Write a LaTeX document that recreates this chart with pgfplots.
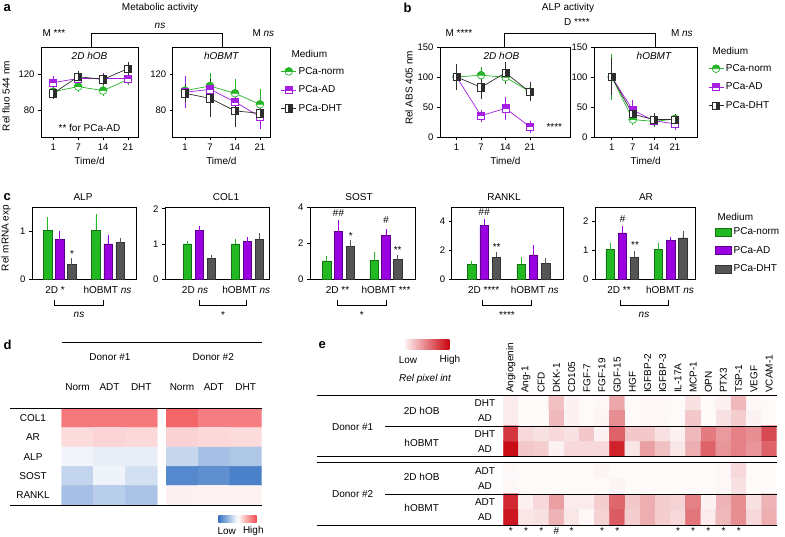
\documentclass[border=0pt]{standalone}
\usepackage{fontspec}
\setmainfont{Liberation Sans}
\usepackage{pgfplots}
\pgfplotsset{compat=1.18}
\usetikzlibrary{plotmarks}
\definecolor{cg}{RGB}{40,180,40}
\definecolor{cp}{RGB}{165,30,225}
\definecolor{ck}{RGB}{45,45,45}
\definecolor{bg}{RGB}{35,185,35}
\definecolor{bp}{RGB}{155,0,225}
\definecolor{bk}{RGB}{85,85,85}
\definecolor{dblue}{RGB}{55,115,195}
\definecolor{dred}{RGB}{240,75,80}
\definecolor{hlow}{RGB}{255,240,240}
\definecolor{hhigh}{RGB}{200,5,15}
\pgfdeclareplotmark{mnorm}{%
  \pgfpathcircle{\pgfpointorigin}{\pgfplotmarksize}%
  \pgfsetfillcolor{white}\pgfusepathqfillstroke
  \pgfpathmoveto{\pgfqpoint{\pgfplotmarksize}{0pt}}%
  \pgfpatharc{0}{180}{\pgfplotmarksize}%
  \pgfpathclose
  \pgfsetfillcolor{cg}\pgfusepathqfillstroke}
\pgfdeclareplotmark{mad}{%
  \pgfpathrectangle{\pgfqpoint{-\pgfplotmarksize}{-\pgfplotmarksize}}{\pgfqpoint{2\pgfplotmarksize}{2\pgfplotmarksize}}%
  \pgfsetfillcolor{white}\pgfusepathqfillstroke
  \pgfpathrectangle{\pgfqpoint{-\pgfplotmarksize}{0pt}}{\pgfqpoint{2\pgfplotmarksize}{\pgfplotmarksize}}%
  \pgfsetfillcolor{cp}\pgfusepathqfillstroke}
\pgfdeclareplotmark{mdht}{%
  \pgfpathrectangle{\pgfqpoint{-\pgfplotmarksize}{-\pgfplotmarksize}}{\pgfqpoint{2\pgfplotmarksize}{2\pgfplotmarksize}}%
  \pgfsetfillcolor{white}\pgfusepathqfillstroke
  \pgfpathrectangle{\pgfqpoint{0pt}{-\pgfplotmarksize}}{\pgfqpoint{\pgfplotmarksize}{2\pgfplotmarksize}}%
  \pgfsetfillcolor{ck}\pgfusepathqfillstroke}
\newcommand\fs{\fontsize{10}{12}\selectfont}
\newcommand\fst{\fontsize{9.5}{11}\selectfont}
\pgfplotsset{
  /pgf/number format/assume math mode=true,
  base/.style={scale only axis, clip=false, font=\fs,
    axis line style={line width=0.7pt},
    tick align=outside, tick pos=left, major tick length=3pt,
    tick style={line width=0.7pt, black},
    tick label style={font=\fst},
    legend style={draw=none, fill=none, inner sep=0pt, row sep=5pt, font=\fs, legend cell align=left, anchor=north west}},
  lineax/.style={base, height=90pt, xtick={0,1,2,3}, xticklabels={1,7,14,21},
    xlabel={Time/d},
    legend image code/.code={\draw[mark repeat=2,mark phase=2,##1] plot coordinates {(0pt,0pt) (7.5pt,0pt) (15pt,0pt)};}},
  barax/.style={base, height=72pt, ymin=0, xtick=\empty, anchor=north west,
    legend image code/.code={\draw[##1, bar shift=0pt] (0pt,-4pt) rectangle (16pt,4pt);}},
  pnorm/.style={cg, line width=0.7pt, mark=mnorm, mark size=3.8pt,
    mark options={solid, draw=cg},
    error bars/y dir=both, error bars/y explicit, error bars/error mark=-,
    error bars/error bar style={cg, line width=0.7pt},
    error bars/error mark options={cg, mark size=3.5pt, line width=0.7pt}},
  pad/.style={cp, line width=0.7pt, mark=mad, mark size=3.6pt,
    mark options={solid, draw=cp},
    error bars/y dir=both, error bars/y explicit, error bars/error mark=-,
    error bars/error bar style={cp, line width=0.7pt},
    error bars/error mark options={cp, mark size=3.5pt, line width=0.7pt}},
  pdht/.style={ck, line width=0.7pt, mark=mdht, mark size=3.6pt,
    mark options={solid, draw=ck},
    error bars/y dir=both, error bars/y explicit, error bars/error mark=-,
    error bars/error bar style={ck, line width=0.7pt},
    error bars/error mark options={ck, mark size=3.5pt, line width=0.7pt}},
  bstyle/.style={ybar, bar width=8.3pt, bar shift=0pt, fill=#1, draw=#1!60!black, line width=0.5pt,
    error bars/y dir=plus, error bars/y explicit, error bars/error mark=-,
    error bars/error bar style={#1, line width=0.7pt},
    error bars/error mark options={#1, mark size=2.5pt, line width=0.7pt}},
  heat/.style={scale only axis, enlargelimits=false, y dir=reverse, anchor=north west},
}
\begin{document}
\begin{tikzpicture}[font=\fs]
\useasboundingbox (0,0) rectangle (785pt,-537pt);

% ================= panel a =================
\begin{axis}[lineax, at={(41pt,-47pt)}, anchor=north west, width=97pt,
  xmin=-0.49, xmax=3.4, ymin=50, ymax=150, ytick={80,120}]
\addplot[pnorm] coordinates {(0,100.3) +- (0,2) (1,106) +- (0,2) (2,101.5) +- (0,2) (3,114) +- (0,2)};
\addplot[pad] coordinates {(0,110.4) +- (0,3) (1,115) +- (0,2) (2,115) +- (0,2) (3,115) +- (0,2)};
\addplot[pdht] coordinates {(0,98.5) +- (0,2) (1,117) +- (0,2) (2,114) +- (0,2) (3,126) +- (0,3)};
\node[font=\itshape\fs] at (rel axis cs:0.5,0.9) {2D hOB};
\node at (rel axis cs:0.5,0.105) {** for PCa-AD};
\end{axis}
\begin{axis}[lineax, at={(172.7pt,-47pt)}, anchor=north west, width=97.3pt,
  xmin=-0.49, xmax=3.4, ymin=50, ymax=150, ytick={80,120},
  legend style={at={(1.11,0.80)}, row sep=6pt}]
\addplot[pnorm] coordinates {(0,101.5) +- (0,10) (1,106.7) +- (0,11) (2,98.5) +- (0,12) (3,86.3) +- (0,13)};
\addplot[pad] coordinates {(0,99.6) +- (0,14) (1,103) +- (0,8) (2,89) +- (0,8) (3,72.6) +- (0,10)};
\addplot[pdht] coordinates {(0,98.5) +- (0,6) (1,93) +- (0,17) (2,79) +- (0,14.5) (3,76.3) +- (0,5)};
\node[font=\itshape\fs] at (rel axis cs:0.5,0.9) {hOBMT};
\legend{PCa-norm,PCa-AD,PCa-DHT}
\end{axis}

% ================= panel b =================
\begin{axis}[lineax, at={(440pt,-47pt)}, anchor=north west, width=130.7pt,
  xmin=-0.68, xmax=4.67, ymin=0, ymax=150, ytick={0,50,100,150}]
\addplot[pnorm] coordinates {(0,100) +- (0,8) (1,103) +- (0,8) (2,99.5) +- (0,6) (3,75.5) +- (0,6)};
\addplot[pad] coordinates {(0,100) +- (0,5) (1,35.5) +- (0,4) (2,47.8) +- (0,13) (3,17) +- (0,4)};
\addplot[pdht] coordinates {(0,100) +- (0,16) (1,82.8) +- (0,14) (2,107) +- (0,12) (3,75) +- (0,10)};
\node[font=\itshape\fs] at (rel axis cs:0.47,0.9) {2D hOB};
\node at (axis cs:4.0,17) {****};
\end{axis}
\begin{axis}[lineax, at={(594pt,-47pt)}, anchor=north west, width=103.3pt,
  xmin=-0.84, xmax=4.06, ymin=0, ymax=150, ytick={0,50,100,150},
  legend style={at={(1.104,0.83)}, row sep=6pt}]
\addplot[pnorm] coordinates {(0,100) +- (0,33) (1,29) +- (0,4) (2,26) +- (0,4) (3,30) +- (0,3)};
\addplot[pad] coordinates {(0,100) +- (0,10) (1,45) +- (0,11) (2,27) +- (0,3) (3,22) +- (0,4)};
\addplot[pdht] coordinates {(0,100) +- (0,25) (1,38) +- (0,5) (2,29) +- (0,5) (3,29) +- (0,3)};
\node[font=\itshape\fs] at (rel axis cs:0.58,0.9) {hOBMT};
\legend{PCa-norm,PCa-AD,PCa-DHT}
\end{axis}

% ================= panel c =================
\begin{axis}[barax, at={(32pt,-207pt)}, width=104pt, xmin=-1.3, xmax=7.33, ymax=1.5, ytick={0,1}]
\addplot[bstyle=bg] coordinates {(0,1.02) +- (0,0.22) (4,1.02) +- (0,0.28)};
\addplot[bstyle=bp] coordinates {(1,0.82) +- (0,0.12) (5,0.73) +- (0,0.14)};
\addplot[bstyle=bk] coordinates {(2,0.30) +- (0,0.08) (6,0.77) +- (0,0.03)};
\end{axis}
\begin{axis}[barax, at={(165pt,-207pt)}, width=104pt, xmin=-1.86, xmax=6.8, ymax=2.05, ytick={0,1,2}]
\addplot[bstyle=bg] coordinates {(0,1.0) +- (0,0.01) (4,1.0) +- (0,0.06)};
\addplot[bstyle=bp] coordinates {(1,1.38) +- (0,0.06) (5,1.07) +- (0,0.06)};
\addplot[bstyle=bk] coordinates {(2,0.59) +- (0,0.02) (6,1.13) +- (0,0.1)};
\end{axis}
\begin{axis}[barax, at={(310pt,-207pt)}, width=105pt, xmin=-1.41, xmax=7.46, ymax=4, ytick={0,2,4}]
\addplot[bstyle=bg] coordinates {(0,1.0) +- (0,0.14) (4,1.03) +- (0,0.32)};
\addplot[bstyle=bp] coordinates {(1,2.64) +- (0,0.48) (5,2.42) +- (0,0.2)};
\addplot[bstyle=bk] coordinates {(2,1.8) +- (0,0.24) (6,1.08) +- (0,0.1)};
\end{axis}
\begin{axis}[barax, at={(451.7pt,-207pt)}, width=111.6pt, xmin=-1.62, xmax=7.43, ymax=5, ytick={0,2,4}]
\addplot[bstyle=bg] coordinates {(0,1.0) +- (0,0.06) (4,1.02) +- (0,0.33)};
\addplot[bstyle=bp] coordinates {(1,3.7) +- (0,0.28) (5,1.67) +- (0,0.52)};
\addplot[bstyle=bk] coordinates {(2,1.52) +- (0,0.18) (6,1.06) +- (0,0.22)};
\end{axis}
\begin{axis}[barax, at={(595pt,-207pt)}, width=100pt, xmin=-1.24, xmax=7.0, ymax=2.5, ytick={0,1,2},
  legend style={at={(1.2,0.74)}, row sep=6pt}]
\addplot[bstyle=bg] coordinates {(0,1.02) +- (0,0.15) (4,1.02) +- (0,0.16)};
\addplot[bstyle=bp] coordinates {(1,1.6) +- (0,0.15) (5,1.35) +- (0,0.02)};
\addplot[bstyle=bk] coordinates {(2,0.76) +- (0,0.12) (6,1.43) +- (0,0.14)};
\legend{PCa-norm,PCa-AD,PCa-DHT}
\end{axis}

% ================= panel d =================
\begin{axis}[heat, hide axis, at={(61.7pt,-408.3pt)}, width=95.6pt, height=96.7pt,
  xmin=-0.5, xmax=2.5, ymin=-0.5, ymax=4.5,
  colormap={bwr}{rgb255=(55,115,195) rgb255=(255,255,255) rgb255=(240,75,80)},
  point meta min=-1, point meta max=1]
\addplot[matrix plot*, mesh/cols=3, point meta=explicit] coordinates {
(0,0) [0.75] (1,0) [0.75] (2,0) [0.75]
(0,1) [0.2] (1,1) [0.24] (2,1) [0.22]
(0,2) [-0.07] (1,2) [-0.12] (2,2) [-0.12]
(0,3) [-0.3] (1,3) [-0.08] (2,3) [-0.22]
(0,4) [-0.45] (1,4) [-0.35] (2,4) [-0.42]};
\end{axis}
\begin{axis}[heat, hide axis, at={(166pt,-408.3pt)}, width=95.7pt, height=96.7pt,
  xmin=-0.5, xmax=2.5, ymin=-0.5, ymax=4.5,
  colormap={bwr}{rgb255=(55,115,195) rgb255=(255,255,255) rgb255=(240,75,80)},
  point meta min=-1, point meta max=1]
\addplot[matrix plot*, mesh/cols=3, point meta=explicit] coordinates {
(0,0) [0.85] (1,0) [0.72] (2,0) [0.72]
(0,1) [0.25] (1,1) [0.22] (2,1) [0.2]
(0,2) [-0.28] (1,2) [-0.45] (2,2) [-0.4]
(0,3) [-0.85] (1,3) [-0.8] (2,3) [-0.9]
(0,4) [0.08] (1,4) [0.07] (2,4) [0.07]};
\end{axis}

% ================= panel e =================
\begin{axis}[heat, at={(503.3pt,-395pt)}, width=273.4pt, height=61.7pt,
  xmin=-0.5, xmax=17.5, ymin=-0.5, ymax=3.5,
  axis line style={draw=none}, major tick length=0pt, ytick=\empty,
  xtick={0,...,17}, xticklabel pos=upper,
  xticklabels={Angiogenin,Ang-1,CFD,DKK-1,CD105,FGF-7,FGF-19,GDF-15,HGF,IGFBP-2,IGFBP-3,IL-17A,MCP-1,OPN,PTX3,TSP-1,VEGF,VCAM-1},
  xticklabel style={rotate=90, anchor=west, font=\fs, inner xsep=2pt},
  colormap={wr}{rgb255=(255,255,255) rgb255=(200,5,15)},
  point meta min=0, point meta max=1]
\addplot[matrix plot*, mesh/cols=18, point meta=explicit] coordinates {
(0,0) [0.08] (1,0) [0.02] (2,0) [0.02] (3,0) [0.25] (4,0) [0.05] (5,0) [0.02] (6,0) [0.03] (7,0) [0.35] (8,0) [0.02] (9,0) [0.03] (10,0) [0.03] (11,0) [0.02] (12,0) [0.12] (13,0) [0.02] (14,0) [0.06] (15,0) [0.28] (16,0) [0.03] (17,0) [0.02]
(0,1) [0.08] (1,1) [0.02] (2,1) [0.02] (3,1) [0.28] (4,1) [0.05] (5,1) [0.02] (6,1) [0.04] (7,1) [0.45] (8,1) [0.02] (9,1) [0.03] (10,1) [0.03] (11,1) [0.02] (12,1) [0.22] (13,1) [0.02] (14,1) [0.12] (15,1) [0.2] (16,1) [0.05] (17,1) [0.02]
(0,2) [0.8] (1,2) [0.15] (2,2) [0.12] (3,2) [0.15] (4,2) [0.12] (5,2) [0.22] (6,2) [0.05] (7,2) [0.62] (8,2) [0.22] (9,2) [0.22] (10,2) [0.12] (11,2) [0.06] (12,2) [0.28] (13,2) [0.52] (14,2) [0.4] (15,2) [0.5] (16,2) [0.45] (17,2) [0.72]
(0,3) [0.97] (1,3) [0.22] (2,3) [0.2] (3,3) [0.05] (4,3) [0.15] (5,3) [0.15] (6,3) [0.15] (7,3) [0.88] (8,3) [0.1] (9,3) [0.38] (10,3) [0.25] (11,3) [0.1] (12,3) [0.32] (13,3) [0.62] (14,3) [0.42] (15,3) [0.5] (16,3) [0.42] (17,3) [0.62]};
\end{axis}
\begin{axis}[heat, at={(503.3pt,-462.7pt)}, width=273.4pt, height=62.3pt,
  xmin=-0.5, xmax=17.5, ymin=-0.5, ymax=3.5,
  axis line style={draw=none}, major tick length=0pt, ytick=\empty,
  xtick={0,...,17}, xticklabel pos=lower,
  xticklabels={*,*,*,\#,*,,*,*,,,,*,*,*,*,*,,},
  xticklabel style={font=\fs, inner ysep=2pt},
  colormap={wr}{rgb255=(255,255,255) rgb255=(200,5,15)},
  point meta min=0, point meta max=1]
\addplot[matrix plot*, mesh/cols=18, point meta=explicit] coordinates {
(0,0) [0.03] (1,0) [0.02] (2,0) [0.02] (3,0) [0.02] (4,0) [0.02] (5,0) [0.02] (6,0) [0.04] (7,0) [0.02] (8,0) [0.02] (9,0) [0.02] (10,0) [0.02] (11,0) [0.02] (12,0) [0.02] (13,0) [0.02] (14,0) [0.03] (15,0) [0.15] (16,0) [0.02] (17,0) [0.02]
(0,1) [0.03] (1,1) [0.02] (2,1) [0.02] (3,1) [0.02] (4,1) [0.02] (5,1) [0.02] (6,1) [0.02] (7,1) [0.04] (8,1) [0.02] (9,1) [0.02] (10,1) [0.02] (11,1) [0.02] (12,1) [0.02] (13,1) [0.02] (14,1) [0.03] (15,1) [0.12] (16,1) [0.02] (17,1) [0.02]
(0,2) [0.85] (1,2) [0.06] (2,2) [0.15] (3,2) [0.38] (4,2) [0.08] (5,2) [0.08] (6,2) [0.2] (7,2) [0.6] (8,2) [0.22] (9,2) [0.32] (10,2) [0.2] (11,2) [0.18] (12,2) [0.5] (13,2) [0.05] (14,2) [0.3] (15,2) [0.45] (16,2) [0.12] (17,2) [0.3]
(0,3) [0.92] (1,3) [0.1] (2,3) [0.12] (3,3) [0.3] (4,3) [0.1] (5,3) [0.03] (6,3) [0.18] (7,3) [0.65] (8,3) [0.2] (9,3) [0.32] (10,3) [0.2] (11,3) [0.15] (12,3) [0.55] (13,3) [0.08] (14,3) [0.28] (15,3) [0.45] (16,3) [0.15] (17,3) [0.32]};
\end{axis}

% ================= annotations =================
\begin{scope}[x=1pt, y=-1pt]
% panel letters
\node[anchor=west, font=\bfseries\fontsize{13}{14}\selectfont] at (0,8) {a};
\node[anchor=west, font=\bfseries\fontsize{13}{14}\selectfont] at (400,8) {b};
\node[anchor=west, font=\bfseries\fontsize{13}{14}\selectfont] at (0,197) {c};
\node[anchor=west, font=\bfseries\fontsize{13}{14}\selectfont] at (0,345) {d};
\node[anchor=west, font=\bfseries\fontsize{13}{14}\selectfont] at (315,345) {e};
% panel a
\node at (160,7.5) {Metabolic activity};
\node[font=\itshape\fs] at (160,26) {ns};
\draw[line width=0.6pt] (91.7,47) -- (91.7,33.3) -- (222.7,33.3) -- (222.7,47);
\node[anchor=west] at (39,33.3) {M ***};
\node[anchor=west] at (249,33.3) {M \textit{ns}};
\node[rotate=90] at (6,96) {Rel fluo 544 nm};
\node[anchor=west] at (288,54) {Medium};
% panel b
\node at (568,7.5) {ALP activity};
\node at (577,22.5) {D ****};
\draw[line width=0.6pt] (504.3,47) -- (504.3,33.3) -- (655,33.3) -- (655,47);
\node[anchor=west] at (442,33.3) {M ****};
\node[anchor=west] at (667.5,33.3) {M \textit{ns}};
\node[rotate=90] at (409,88) {Rel ABS 405 nm};
\node[anchor=west] at (709,51) {Medium};
% panel c
\node[rotate=90] at (6,238) {Rel mRNA exp};
\node at (83,197) {ALP};
\node at (226,197) {COL1};
\node at (359,197) {SOST};
\node at (504,197) {RANKL};
\node at (646,197) {AR};
\node[anchor=west] at (714,216.7) {Medium};
\node at (55,290) {2D *};
\node at (107.5,290) {hOBMT \textit{ns}};
\node at (195,290) {2D \textit{ns}};
\node at (246.3,290) {hOBMT \textit{ns}};
\node at (337.5,290) {2D **};
\node at (386,290) {hOBMT ***};
\node at (483.7,290) {2D ****};
\node at (534.7,290) {hOBMT \textit{ns}};
\node at (619,290) {2D **};
\node at (670,290) {hOBMT \textit{ns}};
\draw[line width=0.6pt] (54.3,300) -- (54.3,305) -- (103.3,305) -- (103.3,300);
\draw[line width=0.6pt] (199,300) -- (199,305) -- (246.7,305) -- (246.7,300);
\draw[line width=0.6pt] (337.3,300) -- (337.3,305) -- (386,305) -- (386,300);
\draw[line width=0.6pt] (482.7,300) -- (482.7,305) -- (531,305) -- (531,300);
\draw[line width=0.6pt] (620,300) -- (620,305) -- (668,305) -- (668,300);
\node[font=\itshape\fs] at (79,315) {ns};
\node at (223,315) {*};
\node at (361.7,315) {*};
\node at (507,315) {****};
\node[font=\itshape\fs] at (644,315) {ns};
\node at (72,254) {*};
\node[font=\itshape\fs] at (338.3,213.5) {\#\#};
\node at (350.7,236) {*};
\node[font=\itshape\fs] at (386,220) {\#};
\node at (397.7,250) {**};
\node[font=\itshape\fs] at (484,212) {\#\#};
\node at (496.7,247) {**};
\node[font=\itshape\fs] at (622.3,219.3) {\#};
\node at (635,245) {**};
% panel d
\draw[line width=0.8pt] (61.7,342.3) -- (261.7,342.3);
\node at (110,357.3) {Donor \#1};
\node at (213.3,357.3) {Donor \#2};
\node at (77.6,387.3) {Norm};
\node at (109.5,387.3) {ADT};
\node at (141.3,387.3) {DHT};
\node at (182,387.3) {Norm};
\node at (213.8,387.3) {ADT};
\node at (245.7,387.3) {DHT};
\draw[line width=0.8pt] (10,408.3) -- (261.7,408.3);
\draw[line width=0.8pt] (10,505) -- (261.7,505);
\node at (33,418) {COL1};
\node at (33,437.4) {AR};
\node at (33,456.7) {ALP};
\node at (33,476) {SOST};
\node at (33,495.4) {RANKL};
\shade[left color=dblue, right color=dred, middle color=white] (218.3,515) rectangle (256.7,522.7);
\node at (226.7,531) {Low};
\node at (253.3,531) {High};
% panel e
\shade[left color=hlow, right color=hhigh] (405,340) rectangle (449.3,349.3);
\node at (408,360) {Low};
\node at (450,360) {High};
\node[font=\itshape\fs] at (425,379.3) {Rel pixel int};
\draw[line width=0.8pt] (316.7,395) -- (776.7,395);
\draw[line width=0.8pt] (385,426) -- (776.7,426);
\draw[line width=0.8pt] (316.7,456.7) -- (776.7,456.7);
\draw[line width=0.8pt] (316.7,462.7) -- (776.7,462.7);
\draw[line width=0.8pt] (385,494) -- (776.7,494);
\draw[line width=0.8pt] (316.7,525) -- (776.7,525);
\node at (352.7,426.7) {Donor \#1};
\node at (352.7,494) {Donor \#2};
\node at (421.7,411) {2D hOB};
\node at (421.7,442.7) {hOBMT};
\node at (421.7,476.7) {2D hOB};
\node at (421.7,508.3) {hOBMT};
\node at (485,402.7) {DHT};
\node at (485,418) {AD};
\node at (485,433.8) {DHT};
\node at (485,449.3) {AD};
\node at (485,470.7) {ADT};
\node at (485,486) {AD};
\node at (485,501.7) {ADT};
\node at (485,517.3) {AD};
\end{scope}
\end{tikzpicture}
\end{document}
